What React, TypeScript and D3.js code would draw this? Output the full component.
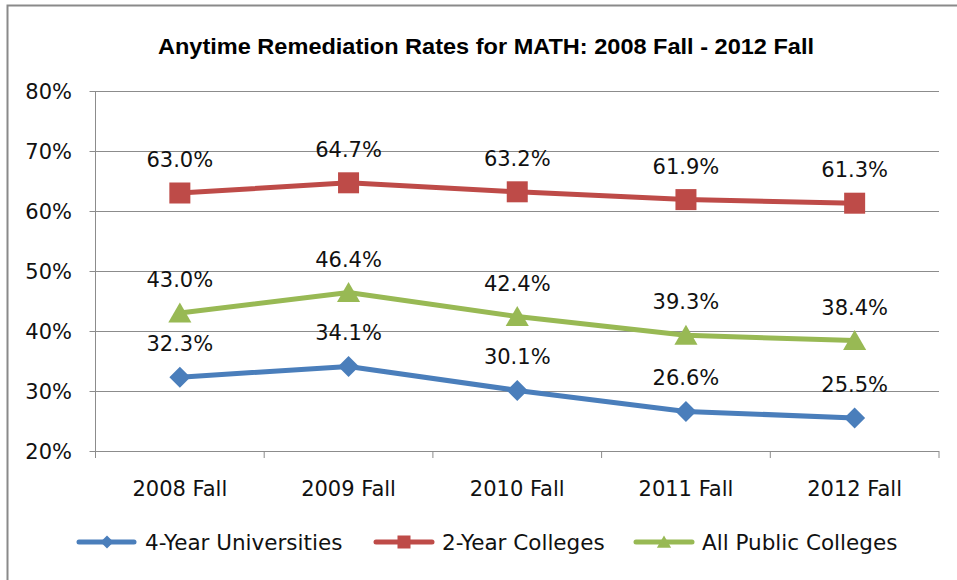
import React from "react";
import * as d3 from "d3";

const categories = ["2008 Fall", "2009 Fall", "2010 Fall", "2011 Fall", "2012 Fall"];
const fourYear = [32.3, 34.1, 30.1, 26.6, 25.5];
const twoYear = [63.0, 64.7, 63.2, 61.9, 61.3];
const allPublic = [43.0, 46.4, 42.4, 39.3, 38.4];
const yTicks = [20, 30, 40, 50, 60, 70, 80];
const seriesNames = ["4-Year Universities", "2-Year Colleges", "All Public Colleges"];
const title = "Anytime Remediation Rates for MATH: 2008 Fall - 2012 Fall";

const W = 957, H = 580;
const left = 95.5, right = 939, top = 91, bottom = 451;
const FONT = "'DejaVu Sans', sans-serif";

type S = { name: string; values: number[]; color: string; marker: string };
const series: S[] = [
  { name: seriesNames[0], values: fourYear, color: "#4A7EBB", marker: "diamond" },
  { name: seriesNames[1], values: twoYear, color: "#BE4B48", marker: "square" },
  { name: seriesNames[2], values: allPublic, color: "#98B954", marker: "triangle" },
];

function Marker({ type, x, y, s, color }: { type: string; x: number; y: number; s: number; color: string }) {
  if (type === "square") return <rect x={x - s / 2} y={y - s / 2} width={s} height={s} fill={color} />;
  if (type === "diamond")
    return <path d={`M${x},${y - s / 2}L${x + s / 2},${y}L${x},${y + s / 2}L${x - s / 2},${y}Z`} fill={color} />;
  return <path d={`M${x},${y - s * 0.5}L${x + s * 0.55},${y + s * 0.45}L${x - s * 0.55},${y + s * 0.45}Z`} fill={color} />;
}

export default function App() {
  const x = d3.scaleBand<string>().domain(categories).range([left, right]);
  const y = d3.scaleLinear().domain([20, 80]).range([bottom, top]);
  const cx = (c: string) => (x(c) as number) + x.bandwidth() / 2;
  const line = d3.line<number>().x((_, i) => cx(categories[i])).y((v) => y(v));
  const boundaries = categories.map((c) => x(c) as number).concat([right]);

  const legend = [
    { lx1: 79, lx2: 134, mx: 107, tx: 145, tl: 202 },
    { lx1: 376, lx2: 432, mx: 404, tx: 442, tl: 164 },
    { lx1: 636, lx2: 692, mx: 664, tx: 702, tl: 195 },
  ];

  return (
    <svg width={W} height={H} style={{ position: "absolute", left: 0, top: 0, background: "#fff" }}>
      <rect x={0} y={0} width={W} height={H} fill="#fff" />
      <path d={`M7.5,${H}V5.5H${W}`} fill="none" stroke="#8a8a8a" strokeWidth={2} />
      <text x={486} y={54} textAnchor="middle" fontFamily="'Liberation Sans', Arial, sans-serif" fontWeight="bold"
        fontSize={22} textLength={656} lengthAdjust="spacingAndGlyphs" fill="#000">{title}</text>
      {yTicks.map((t) => (
        <g key={t}>
          <line x1={left - 6} x2={right} y1={Math.round(y(t)) + 0.5} y2={Math.round(y(t)) + 0.5} stroke="#8c8c8c" strokeWidth={1} />
          <text x={72} y={y(t) + 7.5} textAnchor="end" fontFamily={FONT} fontSize={21} fill="#111">{t}%</text>
        </g>
      ))}
      <line x1={left} x2={left} y1={top} y2={bottom} stroke="#8c8c8c" />
      {boundaries.map((b, i) => (
        <line key={i} x1={b} x2={b} y1={bottom} y2={bottom + 7} stroke="#8c8c8c" />
      ))}
      {categories.map((c) => (
        <text key={c} x={cx(c)} y={496} textAnchor="middle" fontFamily={FONT} fontSize={21} fill="#111">{c}</text>
      ))}
      {series.map((s) => (
        <g key={s.name}>
          <path d={line(s.values) || ""} fill="none" stroke={s.color} strokeWidth={5} strokeLinejoin="round" />
          {s.values.map((v, i) => (
            <Marker key={i} type={s.marker} x={cx(categories[i])} y={y(v)} s={21} color={s.color} />
          ))}
          {s.values.map((v, i) => (
            <text key={"t" + i} x={cx(categories[i])} y={y(v) - 26} textAnchor="middle" fontFamily={FONT} fontSize={21} fill="#111">
              {v.toFixed(1)}%
            </text>
          ))}
        </g>
      ))}
      {series.map((s, i) => (
        <g key={"l" + s.name}>
          <line x1={legend[i].lx1} x2={legend[i].lx2} y1={542} y2={542} stroke={s.color} strokeWidth={5} strokeLinecap="round" />
          <Marker type={s.marker} x={legend[i].mx} y={542} s={13} color={s.color} />
          <text x={legend[i].tx} y={550} fontFamily={FONT} fontSize={21.5} fill="#111">{s.name}</text>
        </g>
      ))}
    </svg>
  );
}
